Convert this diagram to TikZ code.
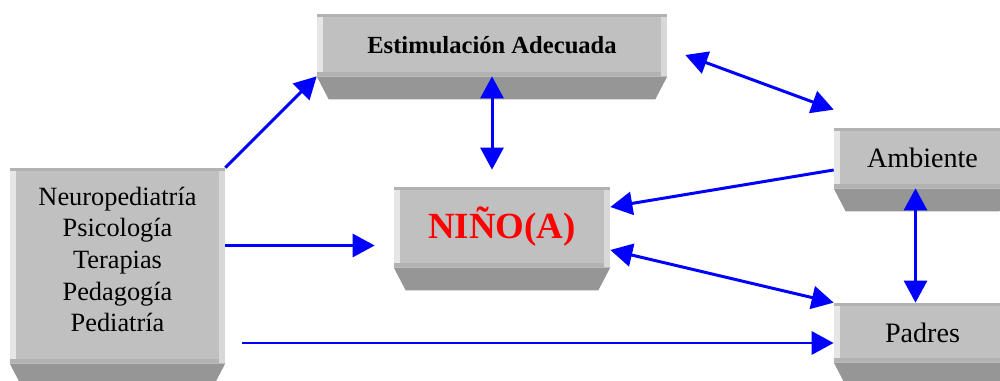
\documentclass[tikz,border=0pt]{standalone}
\usepackage{fontspec}
\setmainfont{Liberation Serif}
\usetikzlibrary{arrows.meta}

\definecolor{griscara}{RGB}{192,192,192}
\definecolor{gristope}{RGB}{178,178,178}
\definecolor{grisizq}{RGB}{230,230,230}
\definecolor{grisder}{RGB}{216,216,216}
\definecolor{grisbase}{RGB}{150,150,150}
\definecolor{azul}{RGB}{0,0,255}
\definecolor{rojo}{RGB}{255,0,0}

\tikzset{
  bloque/.style={fill=griscara, inner sep=0pt, align=center},
  flecha/.style={draw=azul, line width=1.7pt, -{Triangle[length=4.4mm,width=4.6mm]}},
  flechas/.style={draw=azul, line width=1.7pt, {Triangle[length=4.4mm,width=4.6mm]}-{Triangle[length=4.4mm,width=4.6mm]}}
}

% relieve de cada caja: base inclinada y bordes
\newcommand\relieve[1]{
\fill[grisbase] (#1.south west) -- (#1.south east) -- ([xshift=-2.4mm,yshift=-4.6mm]#1.south east) -- ([xshift=2.4mm,yshift=-4.6mm]#1.south west) -- cycle;
\fill[gristope] (#1.north west) rectangle ([yshift=-0.7mm]#1.north east);
\fill[gristope] (#1.south west) rectangle ([yshift=0.8mm]#1.south east);
\fill[grisizq] ([yshift=0.8mm]#1.south west) rectangle ([xshift=1.2mm,yshift=-0.7mm]#1.north west);
\fill[grisder] ([xshift=-1.2mm]#1.south east) rectangle ([yshift=-0.7mm]#1.north east);
}

\begin{document}
\begin{tikzpicture}[x=0.02cm, y=-0.02cm]
\useasboundingbox (0,0) rectangle (1000,381);

\node[bloque, minimum width=7cm, minimum height=1.24cm, font={\fontsize{14}{16}\selectfont\bfseries}] (est) at (492,45) {Estimulación Adecuada};
\relieve{est}

\node[bloque, minimum width=4.32cm, minimum height=1.6cm, text=rojo, font={\fontsize{21}{24}\selectfont\bfseries}] (nino) at (502,227) {NIÑO(A)};
\relieve{nino}

\node[bloque, minimum width=4.3cm, minimum height=3.9cm, text depth=7pt, font={\fontsize{15}{18}\selectfont}] (areas) at (117.5,265.5) {Neuropediatría\\Psicología\\Terapias\\Pedagogía\\Pediatría};
\relieve{areas}

\node[bloque, minimum width=3.54cm, minimum height=1.2cm, font={\fontsize{16}{18}\selectfont}] (amb) at (922.5,158) {Ambiente};
\relieve{amb}

\node[bloque, minimum width=3.54cm, minimum height=1.18cm, font={\fontsize{16}{18}\selectfont}] (padres) at (922.5,332.5) {Padres};
\relieve{padres}

% conexiones
\draw[flecha] (areas.north east) -- (est.south west);
\draw[flecha, shorten >=3.8mm] ([yshift=4mm]areas.east) -- ([yshift=4mm]areas.east -| nino.west);
\draw[flecha, shorten <=3.4mm] ([yshift=-2.1mm]areas.east |- padres.west) -- ([yshift=-2.1mm]padres.west);
\draw[flechas, shorten >=3.4mm] (est.south) -- (est.south |- nino.north);
\draw[flechas] ([xshift=3.6mm,yshift=-2mm]est.east) -- ([yshift=3.6mm]amb.north west);
\draw[flecha] ([yshift=-2.4mm]amb.west) -- ([yshift=4mm]nino.east);
\draw[flechas] ([yshift=-4.6mm]nino.east) -- (padres.north west);
\draw[flechas] ([xshift=-1.4mm]amb.south) -- ([xshift=-1.4mm]amb.south |- padres.north);
\end{tikzpicture}
\end{document}
